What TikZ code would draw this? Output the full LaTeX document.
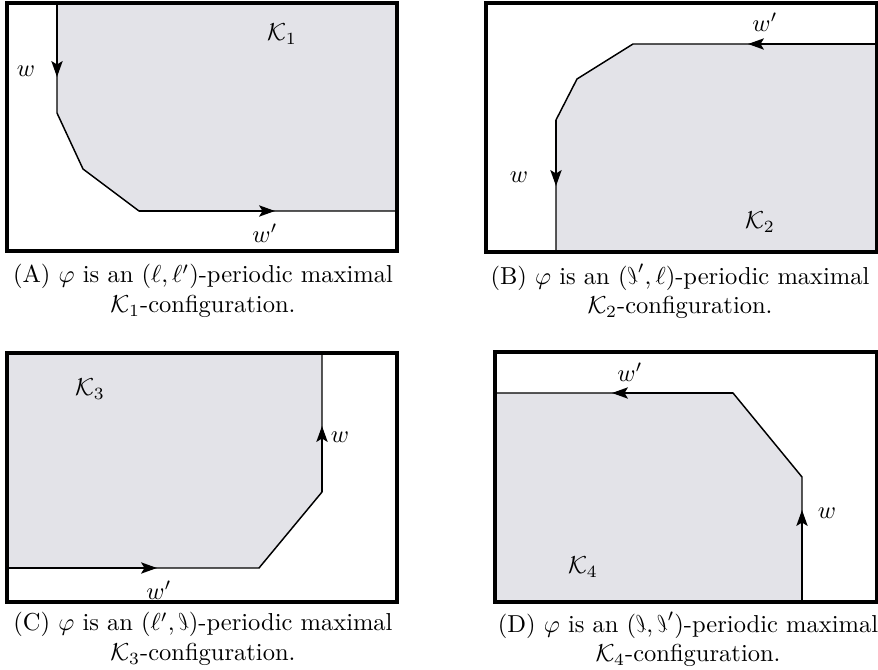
\documentclass[tikz,border=0pt]{standalone}
\usepackage{graphicx}
\usetikzlibrary{arrows.meta}
\newcommand{\rell}{\mathord{\reflectbox{$\ell$}}}
\definecolor{regfill}{RGB}{227,227,232}
\begin{document}
\begin{tikzpicture}[x=0.408pt,y=-0.408pt,
  boxframe/.style={line width=1.25pt},
  walkline/.style={line width=0.6pt},
  walktip/.style={walkline,-{Stealth[length=6.5pt,width=4.6pt,inset=1.4pt]}},
  labtext/.style={inner sep=0pt},
  captext/.style={align=center,inner sep=0pt,font=\normalsize}]
\useasboundingbox (0,0) rectangle (878,670);
% ---------- (A)
\fill[regfill] (57,3) -- (57,113) -- (83,169) -- (139,211) -- (397,211) -- (397,3) -- cycle;
\draw[walkline] (57,3) -- (57,113) -- (83,169) -- (139,211) -- (397,211);
\draw[walktip] (57,3) -- (57,77);
\draw[walktip] (139,211) -- (275,211);
\draw[boxframe] (7,3) rectangle (397,251);
\node[labtext] (wA) at (26,71) {$w$};
\node[labtext] (wpA) at (265,233) {$w'$};
\node[labtext] (KA) at (282,34) {$\mathcal{K}_1$};
\node[captext] (capA) at (203,291) {(A) $\varphi$ is an $(\ell,\ell')$-periodic maximal\\$\mathcal{K}_1$-configuration.};
% ---------- (B)
\fill[regfill] (877,44) -- (633,44) -- (577,79) -- (556,120) -- (556,252) -- (877,252) -- cycle;
\draw[walkline] (877,44) -- (633,44) -- (577,79) -- (556,120) -- (556,252);
\draw[walktip] (877,44) -- (748,44);
\draw[walktip] (556,120) -- (556,186);
\draw[boxframe] (486,3) rectangle (877,252);
\node[labtext] (wB) at (519,177) {$w$};
\node[labtext] (wpB) at (765,22) {$w'$};
\node[labtext] (KB) at (760,222) {$\mathcal{K}_2$};
\node[captext] (capB) at (680,291) {(B) $\varphi$ is an $(\rell',\ell)$-periodic maximal\\$\mathcal{K}_2$-configuration.};
% ---------- (C)
\fill[regfill] (7,568) -- (259,568) -- (322,492) -- (322,353) -- (7,353) -- cycle;
\draw[walkline] (7,568) -- (259,568) -- (322,492) -- (322,353);
\draw[walktip] (7,568) -- (157,568);
\draw[walktip] (322,492) -- (322,426);
\draw[boxframe] (7,353) rectangle (397,602);
\node[labtext] (wC) at (340,437) {$w$};
\node[labtext] (wpC) at (159,590) {$w'$};
\node[labtext] (KC) at (90,389) {$\mathcal{K}_3$};
\node[captext] (capC) at (203,639) {(C) $\varphi$ is an $(\ell',\rell)$-periodic maximal\\$\mathcal{K}_3$-configuration.};
% ---------- (D)
\fill[regfill] (495,393) -- (733,393) -- (802,477) -- (802,602) -- (495,602) -- cycle;
\draw[walkline] (495,393) -- (733,393) -- (802,477) -- (802,602);
\draw[walktip] (733,393) -- (612,393);
\draw[walktip] (802,602) -- (802,510);
\draw[boxframe] (495,352) rectangle (877,602);
\node[labtext] (wD) at (827,513) {$w$};
\node[labtext] (wpD) at (630,372) {$w'$};
\node[labtext] (KD) at (583,567) {$\mathcal{K}_4$};
\node[captext] (capD) at (688,639) {(D) $\varphi$ is an $(\rell,\rell')$-periodic maximal\\$\mathcal{K}_4$-configuration.};
\end{tikzpicture}
\end{document}
